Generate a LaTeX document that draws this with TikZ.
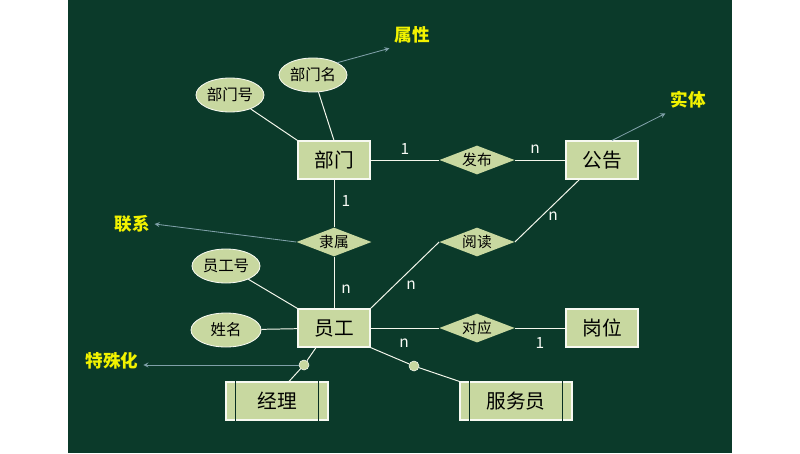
\documentclass[tikz,border=0pt]{standalone}
\usepackage{fontspec}
\setmainfont{Noto Sans CJK SC}
\usetikzlibrary{shapes.geometric}
\definecolor{board}{HTML}{0B3A2A}
\definecolor{leaf}{HTML}{C8D8A0}
\definecolor{note}{HTML}{F2F200}
\definecolor{pointer}{HTML}{7FA0A8}
\tikzset{
  entity/.style={draw=white!85!leaf,line width=0.8pt,fill=leaf,minimum width=1.8cm,minimum height=0.95cm,font=\fontsize{14}{16}\selectfont},
  attr/.style={ellipse,draw=white!85!leaf,line width=0.6pt,fill=leaf,minimum width=1.7cm,minimum height=0.85cm,inner sep=0pt,font=\fontsize{11}{13}\selectfont},
  rel/.style={diamond,aspect=2.6,fill=leaf,inner sep=1pt,minimum width=1.8cm,minimum height=0.7cm,font=\fontsize{10.5}{12}\selectfont},
  link/.style={draw=white!80!leaf,line width=0.7pt},
  card/.style={text=white!90!leaf,font=\fontsize{11}{13}\selectfont},
  tag/.style={text=note,font=\bfseries\fontsize{12.5}{15}\selectfont},
  hint/.style={draw=pointer,line width=0.6pt,-stealth},
  dot/.style={circle,fill=leaf,draw=white!85!leaf,inner sep=0pt,minimum size=0.25cm}
}
\begin{document}
\begin{tikzpicture}[x=0.025cm,y=-0.025cm]
  \useasboundingbox (0,0) rectangle (800,453);
  \fill[board] (68,0) rectangle (732,453);
  % entities
  \node[entity] (dept) at (334,160) {部门};
  \node[entity] (notice) at (602,160) {公告};
  \node[entity] (staff) at (334,328) {员工};
  \node[entity] (post) at (602,328) {岗位};
  \node[entity,minimum width=2.55cm] (mgr) at (277,401) {经理};
  \node[entity,minimum width=2.8cm] (waiter) at (516,401) {服务员};
  \foreach \n in {mgr,waiter}{
    \draw[board!80!black,line width=1pt] ([xshift=0.25cm]\n.north west) -- ([xshift=0.25cm]\n.south west);
    \draw[board!80!black,line width=1pt] ([xshift=-0.25cm]\n.north east) -- ([xshift=-0.25cm]\n.south east);
  }
  % relations
  \node[rel] (issue) at (477,160) {发布};
  \node[rel] (belong) at (334,242) {隶属};
  \node[rel] (read) at (477,242) {阅读};
  \node[rel] (match) at (477,328) {对应};
  % attributes
  \node[attr] (deptno) at (230,95) {部门号};
  \node[attr] (deptname) at (313,75) {部门名};
  \node[attr] (staffno) at (226,266) {员工号};
  \node[attr,minimum width=1.75cm] (sname) at (226,330) {姓名};
  \node[dot] (d1) at (304,365) {};
  \node[dot] (d2) at (414,366) {};
  % connectors
  \draw[link] (deptno) -- (dept.north west);
  \draw[link] (deptname) -- (dept.north);
  \draw[link] (dept) -- (issue) -- (notice);
  \draw[link] (dept) -- (belong) -- (staff);
  \draw[link] (staff.north east) -- (read.west);
  \draw[link] (read.east) -- ([xshift=0.35cm]notice.south west);
  \draw[link] (staff) -- (match) -- (post);
  \draw[link] (staffno) -- (staff.north west);
  \draw[link] (sname) -- (staff);
  \draw[link] ([xshift=-0.45cm]staff.south) -- (d1) -- ([xshift=0.3cm]mgr.north);
  \draw[link] (staff.south east) -- (d2) -- (waiter.north west);
  % cardinalities
  \node[card] (c1) at (405,149) {1};
  \node[card] (c2) at (535,149) {n};
  \node[card] (c3) at (346,201) {1};
  \node[card] (c4) at (346,289) {n};
  \node[card] (c5) at (553,216) {n};
  \node[card] (c6) at (411,285) {n};
  \node[card] (c7) at (404,343) {n};
  \node[card] (c8) at (540,343) {1};
  % notes
  \node[tag] (lattr) at (412,35) {属性};
  \node[tag] (lent) at (688,100) {实体};
  \node[tag] (lrel) at (132,224) {联系};
  \node[tag] (lspec) at (112,361) {特殊化};
  \draw[hint] (deptname.north east) -- (lattr.south west);
  \draw[hint] ([xshift=0.25cm]notice.north) -- (lent.south west);
  \draw[hint] (belong.west) -- (lrel.east);
  \draw[hint] (d1.west) -- (lspec.east |- d1.west);
\end{tikzpicture}
\end{document}
